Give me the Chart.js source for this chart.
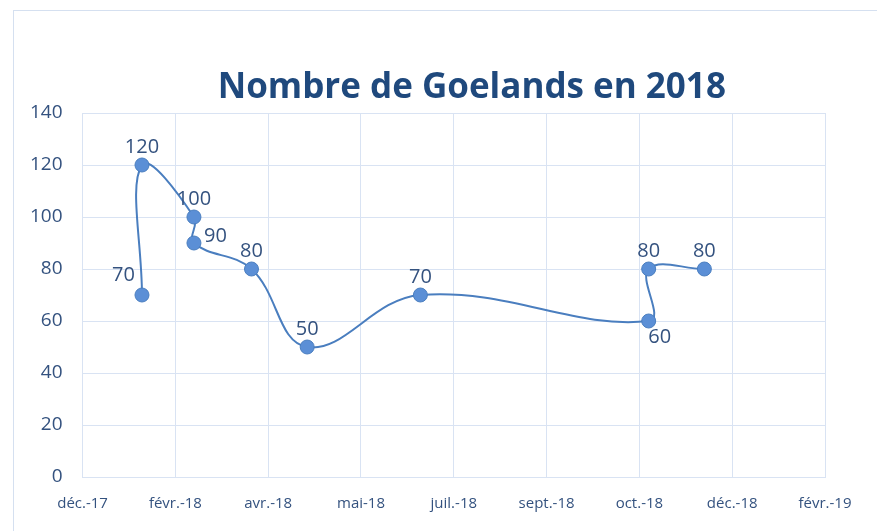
<!DOCTYPE html>
<html>
<head>
<meta charset="utf-8">
<script src="https://cdn.jsdelivr.net/npm/chart.js@4/dist/chart.umd.min.js"></script>
<style>
    html, body { margin: 0; padding: 0; background: #fff; overflow: hidden; }
    #frame { position: absolute; left: 13px; top: 10px; width: 900px; height: 560px; border: 1px solid #d5e0f0; box-sizing: border-box; }
    #wrap { position: absolute; left: 0; top: 0; width: 877px; height: 531px; }
</style>
</head>
<body>
<div id="frame"></div>
<div id="wrap"><canvas id="goelandChart" width="877" height="531"></canvas></div>
<script>
// ===========================================
// Données : nombre de goélands en 2018
// ===========================================
const dates = ['2018-01-31', '2018-01-31', '2018-02-28', '2018-02-28', '2018-03-31',
               '2018-04-30', '2018-06-30', '2018-10-31', '2018-10-31', '2018-11-30'];
const nombres = [70, 120, 100, 90, 80, 50, 70, 60, 80, 80];
const yTicks = [0, 20, 40, 60, 80, 100, 120, 140];
const moisFr = ['janv.', 'févr.', 'mars', 'avr.', 'mai', 'juin', 'juil.', 'août', 'sept.', 'oct.', 'nov.', 'déc.'];
const titre = 'Nombre de Goelands en 2018';
// position des étiquettes (au-dessus par défaut)
const labelPos = ['left', 'top', 'top', 'right', 'top', 'top', 'top', 'bottom', 'top', 'top'];

// axe date : jours depuis le 30/12/2017, pas de 50 jours
const debut = Date.UTC(2017, 11, 30);
const JOUR = 86400000;
function toDays(s) {
    const p = s.split('-');
    return (Date.UTC(+p[0], +p[1] - 1, +p[2]) - debut) / JOUR;
}
function fmtDate(d) {
    const dt = new Date(debut + d * JOUR);
    return moisFr[dt.getUTCMonth()] + '-' + String(dt.getUTCFullYear()).slice(2);
}

const points = dates.map((d, i) => ({ x: toDays(d), y: nombres[i] }));
const txtColor = '#34527f';
const gridColor = '#d9e3f3';

// titre dessiné à la main (centré comme dans Excel, un peu à droite)
const titrePlugin = {
    id: 'titrePlugin',
    afterDraw(chart) {
        const ctx = chart.ctx;
        const area = chart.chartArea;
        ctx.save();
        ctx.font = 'bold 35px "Open Sans", sans-serif';
        ctx.fillStyle = '#1f497d';
        ctx.textAlign = 'center';
        ctx.textBaseline = 'middle';
        ctx.fillText(titre, (area.left + area.right) / 2 + 18, 88);
        ctx.restore();
    }
};

// plugin étiquettes de données
const dataLabels = {
    id: 'dataLabels',
    afterDatasetsDraw(chart) {
        const ctx = chart.ctx;
        const meta = chart.getDatasetMeta(0);
        ctx.save();
        ctx.font = '20px "Open Sans", sans-serif';
        ctx.fillStyle = txtColor;
        meta.data.forEach((pt, i) => {
            let x = pt.x, y = pt.y;
            const pos = labelPos[i];
            if (pos === 'top') { ctx.textAlign = 'center'; ctx.textBaseline = 'bottom'; y -= 8; }
            else if (pos === 'bottom') { ctx.textAlign = 'center'; ctx.textBaseline = 'top'; y += 6; x += 11; }
            else if (pos === 'left') { ctx.textAlign = 'right'; ctx.textBaseline = 'bottom'; x -= 7; y -= 10; }
            else { ctx.textAlign = 'left'; ctx.textBaseline = 'bottom'; x += 10; y += 3; }
            ctx.fillText(nombres[i], x, y);
        });
        ctx.restore();
    }
};

const ctx = document.getElementById('goelandChart').getContext('2d');
const goelandChart = new Chart(ctx, {
    type: 'scatter',
    data: {
        datasets: [{
            label: 'Nombre',
            data: points,
            showLine: true,
            tension: 0.4,
            borderColor: '#4a7ebf',
            borderWidth: 2,
            backgroundColor: '#5b8fd6',
            pointBorderColor: '#4a7ebf',
            pointBorderWidth: 1,
            pointRadius: 7,
            pointHoverRadius: 7
        }]
    },
    options: {
        responsive: false,
        animation: false,
        layout: { padding: { left: 10, right: 52, top: 113, bottom: 0 } },
        plugins: {
            legend: { display: false },
            tooltip: { enabled: false },
            title: { display: false }
        },
        scales: {
            x: {
                type: 'linear',
                min: 0,
                max: 400,
                ticks: {
                    stepSize: 50,
                    color: txtColor,
                    font: { family: '"Open Sans", sans-serif', size: 15 },
                    padding: 18,
                    maxRotation: 0,
                    callback: v => fmtDate(v)
                },
                grid: { color: gridColor, drawTicks: false },
                border: { color: gridColor }
            },
            y: {
                min: 0,
                max: 140,
                afterBuildTicks: axis => { axis.ticks = yTicks.map(v => ({ value: v })); },
                ticks: {
                    color: txtColor,
                    font: { family: '"Open Sans", sans-serif', size: 19 },
                    padding: 20
                },
                grid: { color: gridColor, drawTicks: false },
                border: { color: gridColor }
            }
        }
    },
    plugins: [dataLabels, titrePlugin]
});
</script>
</body>
</html>
